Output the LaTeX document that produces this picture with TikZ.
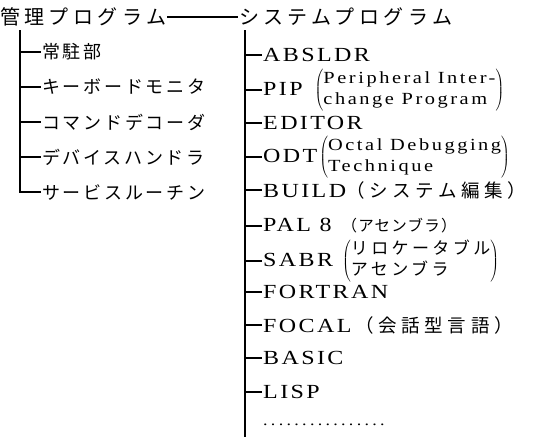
\documentclass[tikz,border=0pt]{standalone}
\usepackage{fontspec}
\newfontfamily\latf{Liberation Serif}[FakeStretch=1.2, LetterSpace=12]
\newfontfamily\slatf{Liberation Serif}[FakeStretch=1.2, LetterSpace=15]
\newfontfamily\dotf{Liberation Serif}[FakeStretch=1.2, LetterSpace=22]
\newfontfamily\jpf{Noto Sans CJK JP}[LetterSpace=15]
\newfontfamily\jprf{Noto Sans CJK JP}[LetterSpace=20]
\newfontfamily\jpbf{Noto Sans CJK JP}[LetterSpace=25]
\newfontfamily\jpsf{Noto Sans CJK JP}[LetterSpace=8]
\newfontfamily\jptf{Noto Sans CJK JP}[LetterSpace=22]
\newcommand\Lat{\fontsize{20}{22}\selectfont\latf}
\newcommand\SLat{\fontsize{17}{17}\selectfont\slatf}
\newcommand\Jp{\fontsize{18}{22}\selectfont\jpf}
\newcommand\RJp{\fontsize{18.5}{22}\selectfont\jpbf}
\newcommand\PJp{\fontsize{17}{20}\selectfont\jprf}
\newcommand\SJp{\fontsize{15.5}{18}\selectfont\jpsf}
\newcommand\Jpt{\fontsize{20}{22}\selectfont\jptf}
\newcommand\twoline[2]{$\left(\renewcommand\arraystretch{0.96}\begin{tabular}{@{}l@{}}#1\\#2\end{tabular}\right)$}
\tikzset{
  x=1pt, y=-1pt,
  ttl/.style={anchor=west, inner sep=1pt, font=\Jpt},
  litem/.style={anchor=west, inner sep=1pt, font=\Jp},
  ritem/.style={anchor=west, inner sep=1pt, font=\Lat},
  ln/.style={line width=1.2pt, black},
}
\begin{document}
\begin{tikzpicture}
\useasboundingbox (0,0) rectangle (537,437);
% titles
\node[ttl] (kanri) at (-1,17) {管理プログラム};
\node[ttl] (sys) at (238,17) {システムプログラム};
\draw[ln] (kanri.east) -- (sys.west);
% left branch
\coordinate (lv) at (20,30);
\node[litem] (l1) at (41,52) {常駐部};
\node[litem] (l2) at (41,87) {キーボードモニタ};
\node[litem] (l3) at (41,122) {コマンドデコーダ};
\node[litem] (l4) at (41,157) {デバイスハンドラ};
\node[litem] (l5) at (41,192) {サービスルーチン};
\draw[ln] (lv) |- (l5.west);
\foreach \n in {l1,l2,l3,l4}{\draw[ln] (lv |- \n.west) -- (\n.west);}
% right branch
\coordinate (rv) at (245,30);
\coordinate (rb) at (245,437);
\node[ritem] (r1) at (262,55) {ABSLDR};
\node[ritem] (r2) at (262,90) {PIP\hspace{12pt}\twoline{\SLat Peripheral Inter-}{\SLat change Program}};
\node[ritem] (r3) at (262,123) {EDITOR};
\node[ritem] (r4) at (262,157) {ODT\hspace{2pt}\twoline{\SLat Octal Debugging}{\SLat Technique}};
\node[ritem] (r5) at (262,190) {BUILD{\RJp（システム編集）}};
\node[ritem] (r6) at (262,226) {PAL 8\hspace{10pt}{\SJp（アセンブラ）}};
\node[ritem] (r7) at (262,261) {SABR\hspace{9pt}\twoline{\PJp リロケータブル}{\PJp アセンブラ}};
\node[ritem] (r8) at (262,292) {FORTRAN};
\node[ritem] (r9) at (262,325) {FOCAL\hspace{4pt}{\RJp（会話型言語）}};
\node[ritem] (r10) at (262,358) {BASIC};
\node[ritem] (r11) at (262,392) {LISP};
\node[ritem, font=\fontsize{15}{15}\selectfont\dotf] (r12) at (262,425) {................};
\draw[ln] (rv) -- (rb);
\foreach \n in {r1,r2,r3,r4,r5,r6,r7,r8,r9,r10,r11}{\draw[ln] (rv |- \n.west) -- (\n.west);}
\end{tikzpicture}
\end{document}
